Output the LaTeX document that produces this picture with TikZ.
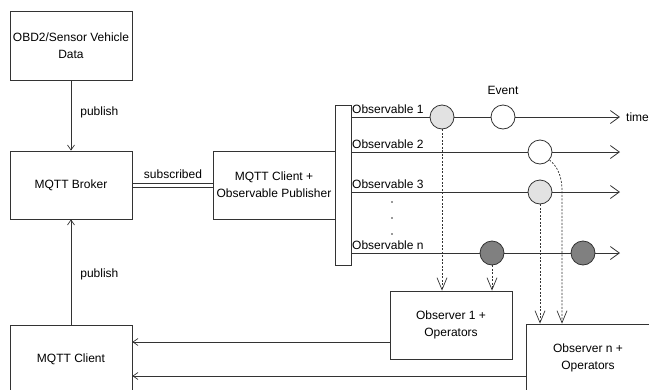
\documentclass[tikz,border=0pt]{standalone}
\usepackage{fontspec}
\setmainfont{Liberation Sans}
\usetikzlibrary{arrows.meta}
\definecolor{linec}{HTML}{333333}
\definecolor{lightfill}{HTML}{E2E2E2}
\definecolor{darkfill}{HTML}{808080}
\begin{document}
\begin{tikzpicture}[x=1pt,y=-1pt,
  txt/.style={font=\fontsize{12}{17}\selectfont, inner sep=0pt},
  box/.style={txt, draw=linec, line width=0.8pt, minimum width=122pt, minimum height=68pt, align=center},
  small/.style={draw=linec, line width=0.7pt, -{Straight Barb[length=5pt,width=7pt]}},
  timeline/.style={draw=linec, line width=0.8pt, -{Straight Barb[length=9pt,width=13pt]}},
  dasharrow/.style={draw=linec, line width=0.7pt, dash pattern=on 2pt off 1.5pt, -{Straight Barb[length=12pt,width=10pt]}},
  ev/.style={circle, draw=linec, line width=0.8pt, minimum size=24pt, inner sep=0pt},
]
\useasboundingbox (0,0) rectangle (649,389);

% boxes
\node[box, minimum height=69pt] (obd) at (71,45.5) {OBD2/Sensor Vehicle\\Data};
\node[box] (broker) at (71,185) {MQTT Broker};
\node[box] (pub) at (274,185) {MQTT Client +\\Observable Publisher};
\node[draw=linec, line width=0.8pt, minimum width=16pt, minimum height=160pt, inner sep=0pt] (bar) at (343,185) {};
\node[box] (mqttc) at (71,359) {MQTT Client};
\node[box] (obs1) at (451,325) {Observer 1 +\\Operators};
\node[box, minimum width=124pt] (obsn) at (588,358) {Observer n +\\Operators};

% publish arrows
\draw[small] (obd.south) -- (broker.north) node[txt, pos=0.45, anchor=west, xshift=9pt] {publish};
\draw[small] (mqttc.north) -- (broker.south) node[txt, pos=0.48, anchor=west, xshift=9pt] {publish};

% subscribed double line
\draw[linec, line width=0.8pt] ([yshift=2pt]broker.east) -- ([yshift=2pt]pub.west);
\draw[linec, line width=0.8pt] ([yshift=-2pt]broker.east) -- ([yshift=-2pt]pub.west);
\node[txt] (sublbl) at (173,174) {subscribed};

% time lines
\coordinate (t1) at (620,117);
\coordinate (t2) at (620,152);
\coordinate (t3) at (620,192);
\coordinate (tn) at (620,253);
\draw[timeline] (bar.east |- t1) -- (t1);
\draw[timeline] (bar.east |- t2) -- (t2);
\draw[timeline] (bar.east |- t3) -- (t3);
\draw[timeline] (bar.east |- tn) -- (tn);

\node[txt, anchor=south west] (l1) at (352,114) {Observable 1};
\node[txt, anchor=south west] (l2) at (352,149) {Observable 2};
\node[txt, anchor=south west] (l3) at (352,189) {Observable 3};
\node[txt, anchor=south west] (ln) at (352,250) {Observable n};
\fill[linec] (392,202) circle (0.8pt) (392,218) circle (0.8pt) (392,234) circle (0.8pt);

\node[txt, anchor=west] (time) at (626,117) {time};
\node[txt] (event) at (503,90) {Event};

% events
\node[ev, fill=lightfill] (c1) at (442,117) {};
\node[ev, fill=white] (e1) at (503,117) {};
\node[ev, fill=white] (c2) at (540,152) {};
\node[ev, fill=lightfill] (c3) at (540,192) {};
\node[ev, fill=darkfill] (cn1) at (492,253) {};
\node[ev, fill=darkfill] (cn2) at (583,253) {};

% dashed arrows
\draw[dasharrow] (c1.south) -- (c1.south |- obs1.north);
\draw[dasharrow] (cn1.south) -- (cn1.south |- obs1.north);
\draw[dasharrow] (c3.south) -- (c3.south |- obsn.north);
\coordinate (k2) at (562,190);
\draw[dasharrow] (c2.-40) .. controls (557,166) and (562,176) .. (k2) -- (k2 |- obsn.north);

% back to MQTT client
\coordinate (a1) at ([yshift=-17pt]obs1.west);
\coordinate (a2) at ([yshift=-18pt]obsn.west);
\draw[small] (a1) -- (a1 -| mqttc.east);
\draw[small] (a2) -- (a2 -| mqttc.east);
\end{tikzpicture}
\end{document}
